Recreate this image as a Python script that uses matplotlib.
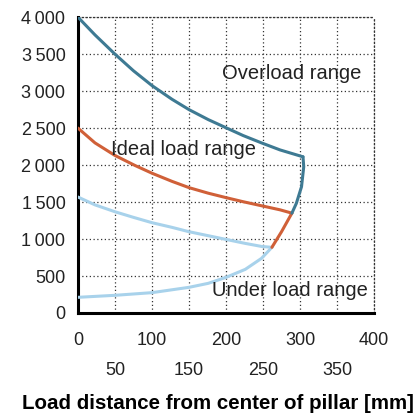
import matplotlib.pyplot as plt
from matplotlib.ticker import FuncFormatter

# curves (load distance mm, load N)
over_x = [0, 23, 50, 75, 100, 127, 150, 176, 200, 223, 248, 273, 304]
over_y = [4000, 3760, 3500, 3275, 3075, 2890, 2750, 2615, 2505, 2400, 2300, 2205, 2112]

ideal_x = [0, 23, 50, 77, 100, 127, 150, 176, 200, 223, 248, 273, 289]
ideal_y = [2500, 2300, 2130, 1995, 1890, 1780, 1695, 1620, 1560, 1505, 1450, 1395, 1350]

under_x = [0, 23, 50, 75, 100, 127, 150, 176, 200, 226, 248, 262]
under_y = [1568, 1462, 1369, 1293, 1221, 1158, 1099, 1045, 995, 941, 900, 888]

# boundary curve, split by colour
edge_low_x = [0, 50, 100, 150, 176, 200, 226, 248, 262]
edge_low_y = [212, 239, 275, 347, 401, 482, 590, 739, 888]
edge_mid_x = [262, 275, 289]
edge_mid_y = [888, 1099, 1350]
edge_top_x = [289, 295, 302, 305, 304]
edge_top_y = [1350, 1482, 1707, 1977, 2112]

label_texts = ['Overload range', 'Ideal load range', 'Under load range']
label_x = [195, 45, 181]
label_y = [3245, 2215, 310]

teal = '#3e7a93'
orange = '#d06038'
light = '#a8d2eb'

plt.rcParams['font.family'] = ['Liberation Sans', 'DejaVu Sans']

fig = plt.figure(figsize=(4.17, 4.19), dpi=100)
ax = fig.add_axes([0.187, 0.253, 0.71, 0.706])

lw = 2.2
kw = dict(lw=lw, solid_capstyle='round', solid_joinstyle='round', zorder=3)
ax.plot(over_x, over_y, color=teal, **kw)
ax.plot(ideal_x, ideal_y, color=orange, **kw)
ax.plot(under_x, under_y, color=light, **kw)
ax.plot(edge_low_x, edge_low_y, color=light, **kw)
ax.plot(edge_mid_x, edge_mid_y, color=orange, **kw)
ax.plot(edge_top_x, edge_top_y, color=teal, **kw)

for t, x, y in zip(label_texts, label_x, label_y):
    ax.text(x, y, t, fontsize=14.5, va='center', color='#222222', zorder=4)

ax.set_xlim(0, 400)
ax.set_ylim(0, 4000)
ax.set_xticks([0, 100, 200, 300, 400])
ax.set_xticks([50, 150, 250, 350], minor=True)
ax.set_yticks(range(0, 4001, 500))
ax.yaxis.set_major_formatter(FuncFormatter(lambda v, p: f'{int(v):,}'.replace(',', '\u2009')))
ax.xaxis.set_minor_formatter(FuncFormatter(lambda v, p: f'{int(v)}'))
ax.tick_params(axis='x', which='major', length=0, pad=14, labelsize=13, labelcolor='#222222')
ax.tick_params(axis='x', which='minor', length=0, pad=35, labelsize=13, labelcolor='#222222')
ax.tick_params(axis='y', length=0, pad=9, labelsize=13, labelcolor='#222222')

ax.grid(True, which='both', color='#333333', linestyle=(0, (1, 2)), linewidth=0.9)
ax.set_axisbelow(True)
for s in ['left', 'bottom']:
    ax.spines[s].set_linewidth(2.2)
    ax.spines[s].set_color('black')
for s in ['top', 'right']:
    ax.spines[s].set_linestyle((0, (1, 2)))
    ax.spines[s].set_linewidth(0.9)
    ax.spines[s].set_color('#333333')

fig.text(0.522, 0.038, 'Load distance from center of pillar [mm]', fontsize=14.8,
         fontweight='bold', ha='center', va='center')

fig.savefig('out.png', dpi=100)
